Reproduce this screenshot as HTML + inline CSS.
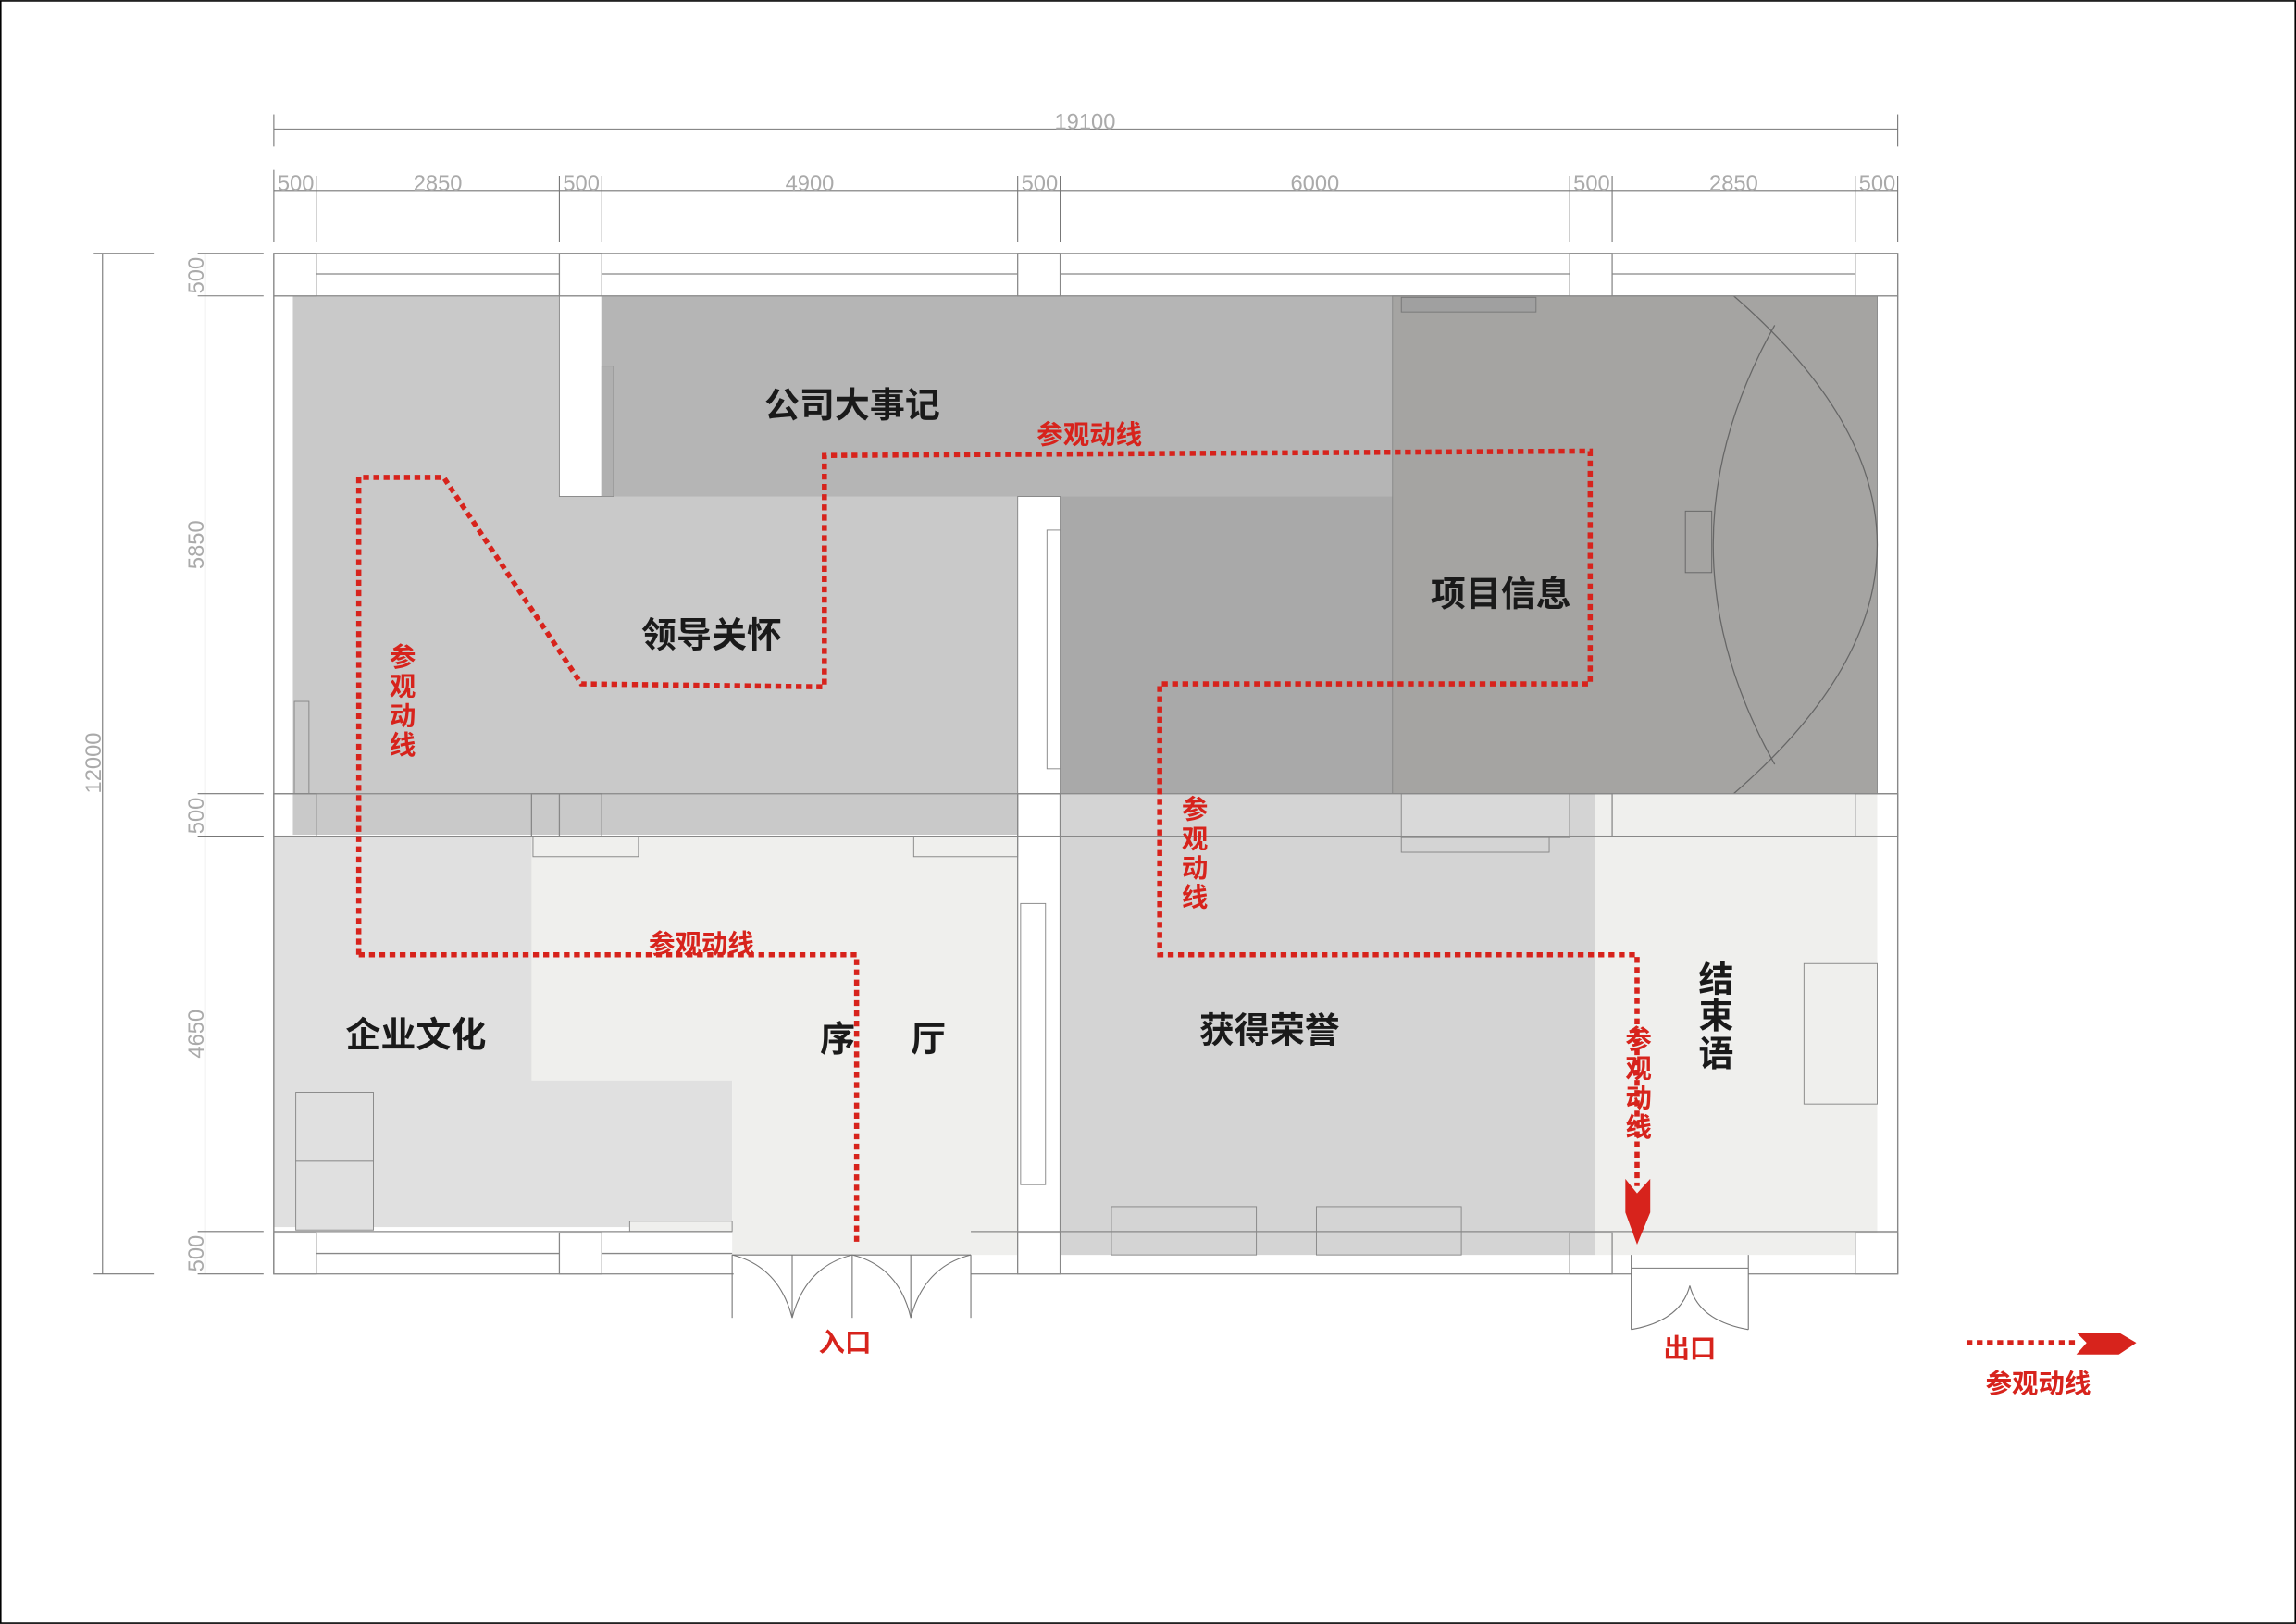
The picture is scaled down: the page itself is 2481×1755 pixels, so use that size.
<!DOCTYPE html>
<html><head><meta charset="utf-8"><style>
html,body{margin:0;padding:0;background:#fff;}
svg{display:block;}
.dim{font-family:"Liberation Sans",sans-serif;font-size:15px;fill:#aaa;font-weight:normal;}
.lbl{font-family:"Liberation Sans","Noto Sans CJK SC",sans-serif;font-size:24px;font-weight:bold;fill:#1a1a1a;}
.red{font-family:"Liberation Sans","Noto Sans CJK SC",sans-serif;font-size:18px;font-weight:bold;fill:#d7231c;}
</style></head><body>
<svg width="2481" height="1755" viewBox="0 0 1568 1109" xmlns="http://www.w3.org/2000/svg">
<rect x="0.5" y="0.5" width="1567" height="1108" fill="#fff" stroke="#000" stroke-width="1"/>
<rect x="200" y="202" width="495" height="368" fill="#c9c9c9"/>
<rect x="411" y="202" width="540" height="137" fill="#b5b5b5"/>
<rect x="382" y="202" width="29" height="137" fill="#fff" stroke="#888" stroke-width="0.6"/>
<rect x="411" y="250" width="8" height="89" fill="#b0b0b0" stroke="#888" stroke-width="0.5"/>
<rect x="724" y="339" width="227" height="203" fill="#a9a9a9"/>
<rect x="951" y="202" width="331" height="340" fill="#a5a4a2" stroke="#888" stroke-width="0.6"/>
<rect x="957" y="203" width="92" height="10" fill="#a0a0a0" stroke="#777" stroke-width="0.6"/>
<path d="M1212,222 Q1128,372 1212,522" fill="none" stroke="#666" stroke-width="0.8"/>
<path d="M1184,202 Q1380,372 1184,542" fill="none" stroke="#666" stroke-width="0.8"/>
<rect x="1151" y="349" width="18" height="42" fill="#a5a4a2" stroke="#666" stroke-width="0.6"/>
<rect x="695" y="339" width="29" height="203" fill="#fff" stroke="#888" stroke-width="0.6"/>
<rect x="715" y="362" width="9" height="163" fill="#fff" stroke="#888" stroke-width="0.6"/>
<rect x="187" y="571" width="313" height="267" fill="#e0e0e0"/>
<rect x="363" y="571" width="332" height="167" fill="#efefed"/>
<rect x="500" y="571" width="195" height="286" fill="#efefed"/>
<rect x="724" y="542" width="365" height="315" fill="#d4d4d4"/>
<rect x="1089" y="542" width="193" height="315" fill="#efefed"/>
<rect x="957" y="542" width="115" height="30" fill="#d9d9d9" stroke="#888" stroke-width="0.6"/>
<rect x="957" y="572" width="101" height="10" fill="#d4d4d4" stroke="#888" stroke-width="0.6"/>
<rect x="1232" y="658" width="50" height="96" fill="#efefed" stroke="#888" stroke-width="0.6"/>
<rect x="759" y="824" width="99" height="33" fill="#d4d4d4" stroke="#888" stroke-width="0.6"/>
<rect x="899" y="824" width="99" height="33" fill="#d4d4d4" stroke="#888" stroke-width="0.6"/>
<rect x="202" y="746" width="53" height="47" fill="#e0e0e0" stroke="#888" stroke-width="0.6"/>
<rect x="202" y="793" width="53" height="47" fill="#e0e0e0" stroke="#888" stroke-width="0.6"/>
<rect x="364" y="571" width="72" height="14" fill="#efefed" stroke="#888" stroke-width="0.6"/>
<rect x="624" y="571" width="71" height="14" fill="#efefed" stroke="#888" stroke-width="0.6"/>
<rect x="430" y="834" width="70" height="7" fill="#efefed" stroke="#888" stroke-width="0.6"/>
<rect x="697" y="617" width="17" height="192" fill="#fff" stroke="#888" stroke-width="0.6"/>
<rect x="201" y="479" width="10" height="63" fill="#c9c9c9" stroke="#888" stroke-width="0.6"/>
<g fill="none" stroke="#888" stroke-width="0.8">
<rect x="187" y="173" width="1109" height="697"/>
<line x1="187" y1="202" x2="1296" y2="202"/>
<line x1="216" y1="187" x2="1267" y2="187"/>
<line x1="187" y1="542" x2="1296" y2="542"/>
<line x1="187" y1="571" x2="1296" y2="571"/>
<line x1="187" y1="841" x2="500" y2="841"/>
<line x1="663" y1="841" x2="1296" y2="841"/>
<line x1="216" y1="856" x2="500" y2="856"/>
<line x1="1296" y1="202" x2="1296" y2="870"/>
<line x1="695" y1="542" x2="695" y2="870"/><line x1="724" y1="542" x2="724" y2="870"/>
</g>
<g fill="#fff" stroke="#888" stroke-width="0.8">
<rect x="187" y="173" width="29" height="29"/><rect x="382" y="173" width="29" height="29"/>
<rect x="695" y="173" width="29" height="29"/><rect x="1072" y="173" width="29" height="29"/>
<rect x="1267" y="173" width="29" height="29"/>
<rect x="187" y="842" width="29" height="28"/><rect x="382" y="842" width="29" height="28"/>
<rect x="695" y="842" width="29" height="28"/><rect x="1267" y="842" width="29" height="28"/>
</g>
<g fill="none" stroke="#888" stroke-width="0.8">
<rect x="187" y="542" width="29" height="29"/><rect x="382" y="542" width="29" height="29"/><rect x="363" y="542" width="48" height="29"/>
<rect x="695" y="542" width="29" height="29"/><rect x="1072" y="542" width="29" height="29"/><rect x="1267" y="542" width="29" height="29"/>
<rect x="1072" y="842" width="29" height="28"/>
<line x1="187" y1="202" x2="187" y2="870"/>
</g>
<rect x="501" y="857" width="162" height="14" fill="#fff"/>
<rect x="1114" y="857" width="80" height="14" fill="#fff"/>
<g fill="none" stroke="#777" stroke-width="0.7">
<line x1="500" y1="857" x2="500" y2="900"/><line x1="663" y1="857" x2="663" y2="900"/>
<line x1="541" y1="857" x2="541" y2="900"/><line x1="582" y1="857" x2="582" y2="900"/><line x1="622" y1="857" x2="622" y2="900"/>
<path d="M500,857 Q532,865 541,900"/><path d="M582,857 Q550,865 541,900"/>
<path d="M582,857 Q614,865 622,900"/><path d="M663,857 Q631,865 622,900"/>
<line x1="500" y1="857" x2="663" y2="857"/>
<line x1="1114" y1="857" x2="1114" y2="908"/><line x1="1194" y1="857" x2="1194" y2="908"/>
<line x1="1114" y1="866" x2="1194" y2="866"/>
<path d="M1154,878 Q1148,902 1114,908"/><path d="M1154,878 Q1160,902 1194,908"/>
</g>
<g stroke="#777" stroke-width="0.7" fill="none">
<line x1="187" y1="88" x2="1296" y2="88"/>
<line x1="187" y1="78" x2="187" y2="100"/><line x1="1296" y1="78" x2="1296" y2="100"/>
<line x1="187" y1="130" x2="1296" y2="130"/>
<line x1="187" y1="116" x2="187" y2="165"/><line x1="216" y1="120" x2="216" y2="165"/>
<line x1="382" y1="120" x2="382" y2="165"/><line x1="411" y1="120" x2="411" y2="165"/>
<line x1="695" y1="120" x2="695" y2="165"/><line x1="724" y1="120" x2="724" y2="165"/>
<line x1="1072" y1="120" x2="1072" y2="165"/><line x1="1101" y1="120" x2="1101" y2="165"/>
<line x1="1267" y1="120" x2="1267" y2="165"/><line x1="1296" y1="120" x2="1296" y2="165"/>
<line x1="70" y1="173" x2="70" y2="870"/>
<line x1="64" y1="173" x2="105" y2="173"/><line x1="64" y1="870" x2="105" y2="870"/>
<line x1="140" y1="173" x2="140" y2="870"/>
<line x1="135" y1="173" x2="180" y2="173"/><line x1="135" y1="202" x2="180" y2="202"/>
<line x1="135" y1="542" x2="180" y2="542"/><line x1="135" y1="571" x2="180" y2="571"/>
<line x1="135" y1="841" x2="180" y2="841"/><line x1="135" y1="870" x2="180" y2="870"/>
</g>
<text class="dim" x="741" y="88" text-anchor="middle">19100</text>
<g class="dim" text-anchor="middle">
<text x="202" y="130">500</text><text x="299" y="130">2850</text><text x="397" y="130">500</text>
<text x="553" y="130">4900</text><text x="710" y="130">500</text><text x="898" y="130">6000</text>
<text x="1087" y="130">500</text><text x="1184" y="130">2850</text><text x="1282" y="130">500</text>
</g>
<g class="dim" text-anchor="middle">
<text transform="translate(139,188) rotate(-90)">500</text>
<text transform="translate(139,372) rotate(-90)">5850</text>
<text transform="translate(139,557) rotate(-90)">500</text>
<text transform="translate(139,706) rotate(-90)">4650</text>
<text transform="translate(139,856) rotate(-90)">500</text>
<text transform="translate(69,521) rotate(-90)">12000</text>
</g>
<g fill="none" stroke="#d7231c" stroke-width="3.5" stroke-dasharray="4,3">
<polyline points="245,652 245,326 303,326 397,467 563,469 563,311 1086,308 1086,467 792,467 792,652 1118,652 1118,810"/>
<polyline points="245,652 585,652 585,848"/>
<line x1="1343" y1="917" x2="1418" y2="917"/>
</g>
<polygon points="1110,805 1118,815 1127,805 1127,828 1118,850 1110,828" fill="#d7231c"/>
<polygon points="1418,910 1447,910 1459,917 1447,925 1418,925 1425,917" fill="#d7231c"/>
<g class="lbl" text-anchor="middle">
<text x="582" y="285">公司大事记</text>
<text x="486" y="442">领导关怀</text>
<text x="1025" y="414">项目信息</text>
<text x="284" y="715">企业文化</text>
<text x="572" y="718">序</text><text x="634" y="718">厅</text>
<text x="867" y="712">获得荣誉</text>
<text x="1172" y="677">结</text><text x="1172" y="702">束</text><text x="1172" y="728">语</text>
</g>
<g class="red" text-anchor="middle">
<text x="744" y="303">参观动线</text>
<text x="479" y="651">参观动线</text>
<text x="577" y="923">入口</text>
<text x="1154" y="927">出口</text>
<text x="1392" y="951">参观动线</text>
<text x="275" y="455">参</text><text x="275" y="475">观</text><text x="275" y="495">动</text><text x="275" y="515">线</text>
<text x="816" y="559">参</text><text x="816" y="579">观</text><text x="816" y="599">动</text><text x="816" y="619">线</text>
<text x="1119" y="716">参</text><text x="1119" y="736">观</text><text x="1119" y="756">动</text><text x="1119" y="776">线</text>
</g>
</svg>
</body></html>
